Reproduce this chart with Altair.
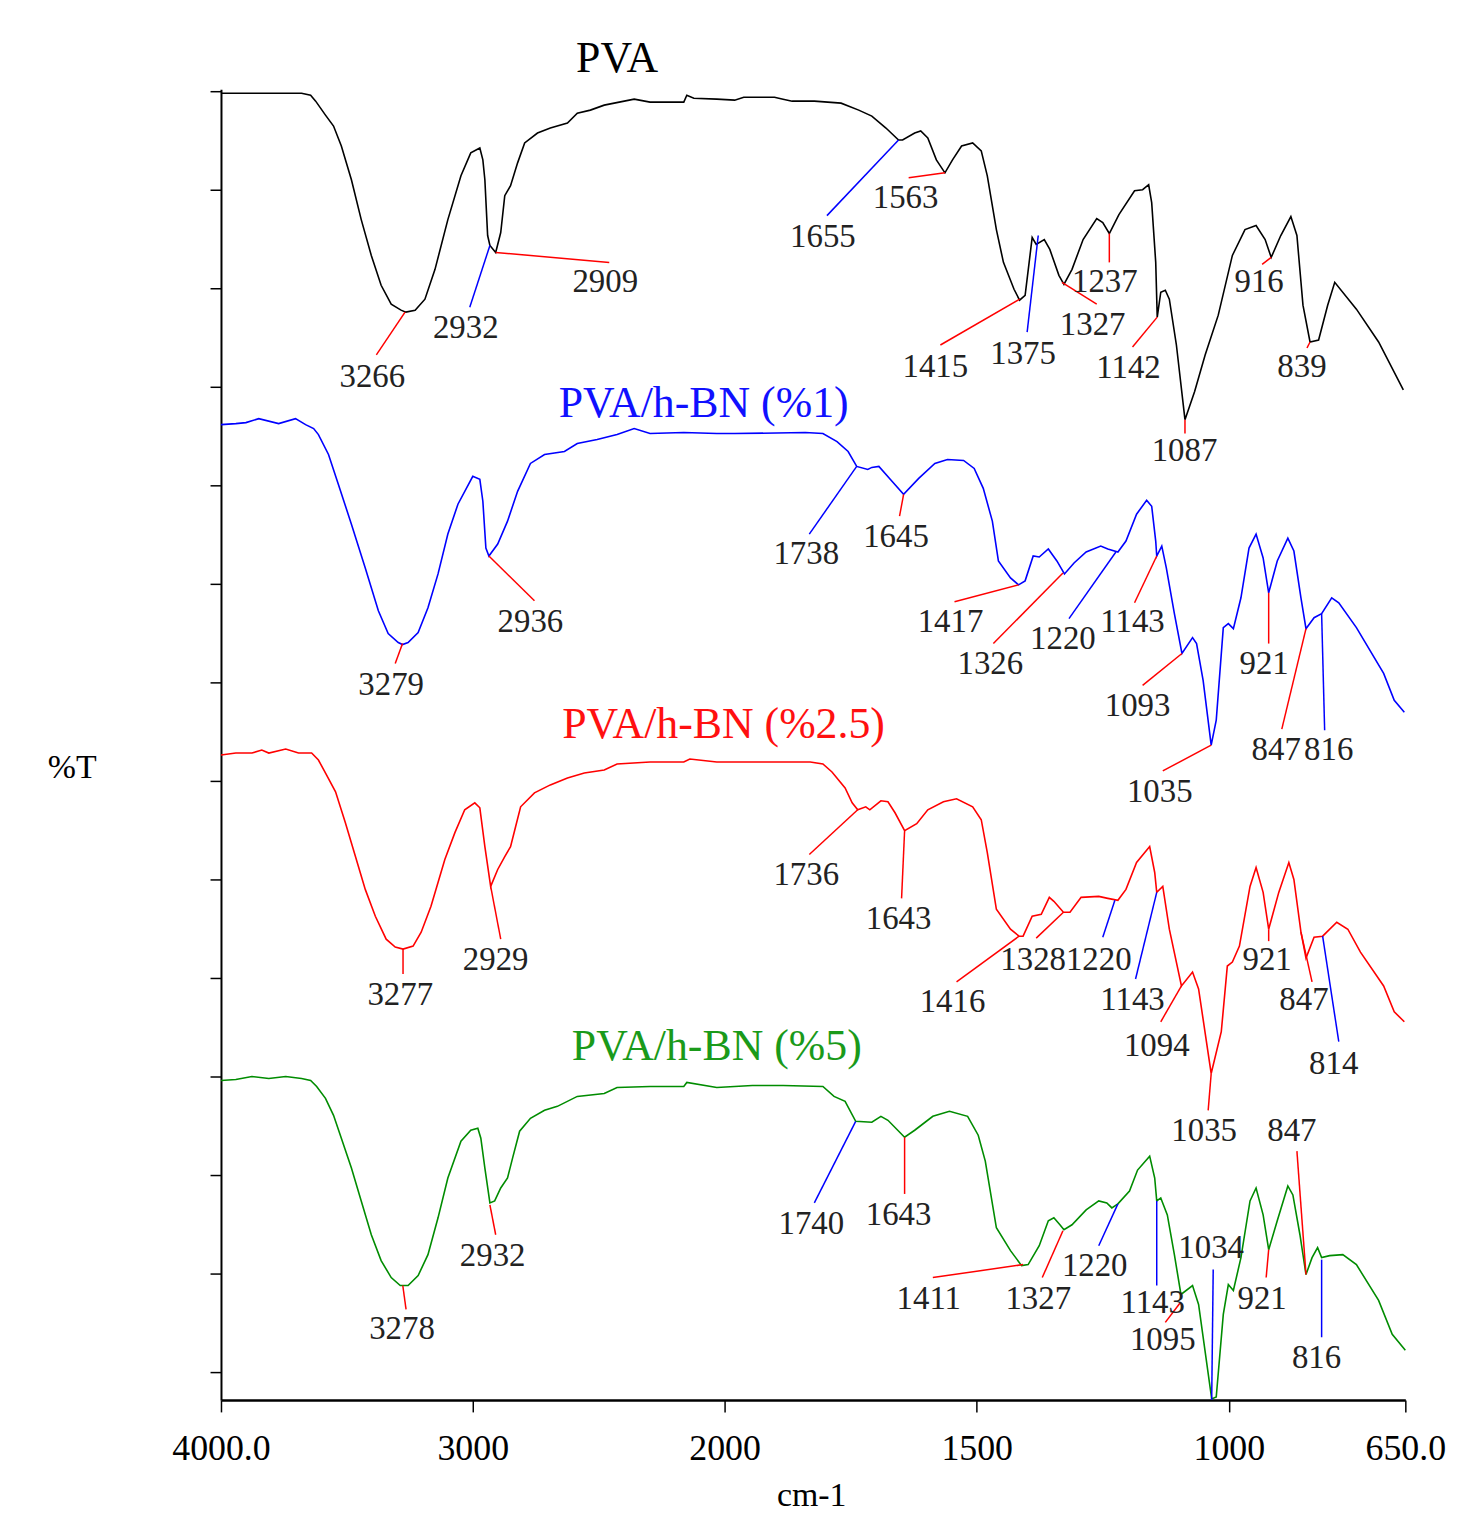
import altair as alt
import pandas as pd

# ---- spectra: (wavenumber cm-1, %T in arbitrary stacked units) ----
pva = [(4000,131.3),(3680,131.3),(3644,131.1),(3624,130.5),(3585,129.1),(3553,128.0),(3522,126.0),(3482,122.6),
       (3443,118.6),(3403,115.0),(3364,112.0),(3324,110.1),(3285,109.5),(3266,109.3),(3229,109.5),(3190,110.6),
       (3150,113.6),(3099,118.6),(3047,123.0),(3008,125.3),(2972,125.8),(2960,124.6),(2952,122.6),(2941,117.0),
       (2932,116.0),(2909,115.3),(2889,117.3),(2873,121.0),(2850,122.0),(2822,124.3),(2794,126.3),(2743,127.3),
       (2692,127.8),(2624,128.3),(2585,129.3),(2533,129.6),(2478,130.1),(2359,130.7),(2296,130.4),(2162,130.4),
       (2150,131.1),(2122,130.8),(2031,130.7),(1980,130.6),(1962,130.9),(1901,130.9),(1884,130.7),(1866,130.5),
       (1822,130.5),(1769,130.3),(1734,129.6),(1708,129.0),(1680,127.8),(1655,126.6),(1647,126.6),(1623,127.3),
       (1611,127.5),(1597,126.8),(1580,124.6),(1563,123.3),(1548,124.6),(1530,126.0),(1508,126.3),(1491,125.5),
       (1479,123.0),(1461,117.6),(1447,114.3),(1426,111.6),(1415,110.5),(1404,111.0),(1390,116.8),(1382,116.1),
       (1366,116.6),(1355,115.6),(1337,113.0),(1327,112.1),(1311,113.6),(1289,116.6),(1262,118.7),(1250,118.3),
       (1237,117.2),(1218,119.1),(1187,121.5),(1171,121.6),(1159,122.1),(1153,120.3),(1145,114.3),(1142,108.8),
       (1135,111.3),(1126,111.5),(1118,110.6),(1104,106.0),(1087,98.5),(1068,101.3),(1047,105.0),(1021,109.0),
       (993,115.0),(968,117.6),(946,118.0),(928,116.6),(916,114.8),(897,117.0),(877,118.9),(865,117.0),
       (853,110.0),(839,106.3),(822,106.5),(804,110.0),(790,112.3),(747,109.6),(703,106.3),(654,101.5)]

bn1 = [(4000,98.0),(3941,98.1),(3901,98.2),(3850,98.6),(3771,98.1),(3704,98.6),(3664,98.0),(3632,97.6),
       (3613,97.0),(3573,95.0),(3534,92.0),(3482,88.0),(3427,83.6),(3375,79.3),(3336,77.0),(3296,76.1),
       (3279,75.9),(3257,76.1),(3217,77.1),(3178,79.6),(3138,83.0),(3099,87.0),(3059,90.0),(3000,92.8),
       (2972,92.5),(2960,90.3),(2948,85.6),(2936,84.8),(2901,86.0),(2862,88.3),(2822,91.3),(2771,94.1),
       (2715,95.0),(2636,95.3),(2585,96.1),(2506,96.5),(2427,97.0),(2359,97.6),(2296,97.1),(2162,97.2),
       (2031,97.1),(1980,97.1),(1840,97.2),(1805,97.1),(1777,96.3),(1755,95.3),(1738,93.8),(1716,93.5),
       (1708,93.7),(1694,93.8),(1668,92.3),(1645,91.0),(1615,92.6),(1583,94.1),(1558,94.5),(1526,94.4),
       (1505,93.6),(1487,91.6),(1469,88.3),(1457,84.3),(1433,82.6),(1417,81.9),(1404,82.3),(1388,84.8),
       (1376,84.7),(1358,85.5),(1341,84.3),(1326,83.0),(1307,84.1),(1283,85.2),(1254,85.8),(1240,85.5),
       (1220,85.2),(1204,86.3),(1183,89.0),(1163,90.4),(1153,89.8),(1145,86.3),(1143,84.8),(1133,85.8),
       (1124,83.6),(1108,79.0),(1093,75.0),(1072,76.6),(1064,76.0),(1051,72.3),(1035,65.8),(1025,68.3),
       (1011,77.6),(1001,78.0),(991,77.5),(976,80.6),(960,85.6),(946,87.0),(932,84.6),(921,81.1),
       (904,84.3),(883,86.6),(871,85.3),(857,80.6),(847,77.5),(831,78.6),(816,79.0),(796,80.6),
       (782,80.1),(747,77.6),(693,73.0),(672,70.3),(652,69.1)]

bn25 = [(4000,64.8),(3941,65.0),(3877,65.0),(3838,65.3),(3810,65.0),(3743,65.4),(3692,65.0),(3640,65.0),
        (3613,64.3),(3581,62.8),(3545,61.1),(3506,58.0),(3466,54.6),(3427,51.3),(3387,48.6),(3344,46.3),
        (3308,45.5),(3277,45.3),(3237,45.6),(3205,47.0),(3166,49.6),(3111,54.3),(3071,57.0),(3032,59.3),
        (2992,60.0),(2972,59.5),(2952,55.6),(2929,51.6),(2901,53.3),(2873,54.6),(2850,55.6),(2830,57.6),
        (2810,59.6),(2755,61.0),(2692,61.8),(2624,62.5),(2557,63.0),(2478,63.3),(2427,63.9),(2296,64.1),
        (2162,64.1),(2138,64.4),(2031,64.1),(1830,64.1),(1805,63.9),(1787,63.1),(1761,61.5),(1747,60.0),
        (1736,59.3),(1720,59.6),(1712,59.3),(1690,60.2),(1676,60.1),(1662,59.0),(1643,57.2),(1619,57.9),
        (1597,59.3),(1566,60.1),(1540,60.4),(1508,59.6),(1491,58.3),(1479,55.0),(1461,49.3),(1433,47.3),
        (1416,46.6),(1408,46.6),(1390,48.6),(1372,48.8),(1356,50.5),(1347,50.1),(1328,49.0),(1315,49.0),
        (1293,50.5),(1258,50.6),(1240,50.4),(1220,50.2),(1204,51.3),(1183,54.0),(1157,55.6),(1147,53.0),
        (1143,51.0),(1131,51.6),(1118,47.3),(1094,41.6),(1072,43.0),(1060,41.3),(1035,32.8),(1015,37.0),
        (1003,43.6),(993,44.0),(979,45.6),(958,51.6),(946,53.5),(932,51.0),(921,47.3),(901,51.0),
        (881,54.0),(871,52.3),(857,47.0),(847,44.4),(831,46.5),(814,46.6),(786,48.0),(764,47.3),
        (739,45.0),(693,41.6),(672,39.0),(652,38.0)]

bn5 = [(4000,32.1),(3941,32.2),(3877,32.5),(3810,32.3),(3743,32.5),(3680,32.3),(3644,32.1),(3620,31.5),
       (3585,30.3),(3553,28.6),(3522,26.3),(3482,23.3),(3443,20.0),(3403,16.6),(3364,14.0),(3324,12.3),
       (3288,11.5),(3278,11.5),(3257,11.5),(3217,12.5),(3178,14.6),(3138,18.3),(3099,22.3),(3047,26.0),
       (3008,27.1),(2980,27.3),(2968,26.3),(2952,23.3),(2932,19.8),(2913,20.0),(2889,21.3),(2862,22.3),
       (2842,24.3),(2814,27.0),(2771,28.3),(2715,29.1),(2664,29.5),(2585,30.5),(2478,30.8),(2427,31.4),
       (2296,31.5),(2162,31.5),(2150,31.9),(2031,31.4),(1945,31.6),(1884,31.6),(1805,31.5),(1783,30.5),
       (1761,30.0),(1740,28.0),(1708,27.9),(1690,28.5),(1676,28.1),(1643,26.4),(1623,27.1),(1587,28.5),
       (1554,29.0),(1518,28.5),(1497,26.6),(1483,24.0),(1461,17.3),(1433,15.0),(1411,13.5),(1398,13.6),
       (1376,15.5),(1358,18.0),(1347,18.3),(1335,17.6),(1327,17.1),(1311,17.6),(1283,19.1),(1258,20.0),
       (1242,19.8),(1232,19.3),(1220,19.7),(1197,21.0),(1181,23.1),(1157,24.5),(1147,22.3),(1143,20.0),
       (1135,20.3),(1122,18.6),(1108,14.6),(1095,10.6),(1072,11.5),(1060,9.6),(1034,0.1),(1025,0.3),
       (1011,8.6),(1001,11.6),(991,11.0),(976,14.3),(958,20.0),(946,21.3),(932,18.6),(921,15.1),
       (904,18.0),(883,21.5),(873,20.6),(859,16.6),(847,12.6),(835,14.3),(824,15.3),(816,14.3),
       (800,14.5),(774,14.6),(747,13.6),(703,10.0),(676,6.6),(650,5.0)]

series_names = ["PVA", "PVA/h-BN (%1)", "PVA/h-BN (%2.5)", "PVA/h-BN (%5)"]
series_colors = ["#000000", "#0000ff", "#ff0000", "#008c00"]
title_colors = ["#000000", "#1010ff", "#ff1010", "#1a9a1a"]

# series names placed as text: (name, wavenumber, %T)
series_titles = [("PVA", 2427, 134.7), ("PVA/h-BN (%1)", 2083, 100.1),
                 ("PVA/h-BN (%2.5)", 2004, 67.8), ("PVA/h-BN (%5)", 2031, 35.5)]

# peak annotations: (label, label_wn, label_T, lead_wn1, lead_T1, lead_wn2, lead_T2, lead colour class)
peaks = [
    ("3266",3399,102.8,3269,109.3,3383,105.0,"r"), ("2932",3028,107.7,2932,116.0,3012,109.8,"b"),
    ("2909",2474,112.3,2909,115.3,2458,114.3,"r"), ("1655",1805,116.8,1655,126.6,1797,119.0,"b"),
    ("1563",1641,120.8,1563,123.3,1635,122.8,"r"), ("1415",1582,103.8,1415,110.6,1572,106.0,"r"),
    ("1375",1408,105.1,1378,117.0,1400,107.3,"b"), ("1327",1270,108.0,1331,112.3,1262,110.1,"r"),
    ("1237",1246,112.3,1237,117.2,1237,114.3,"r"), ("1142",1199,103.7,1142,108.8,1191,105.8,"r"),
    ("1087",1088,95.3,1087,98.5,1087,97.1,"r"), ("916",940,112.3,916,114.8,934,114.1,"r"),
    ("839",855,103.8,839,106.3,845,105.7,"r"),
    ("3279",3324,71.8,3279,76.0,3308,74.0,"r"), ("2936",2771,78.2,2936,84.8,2755,80.3,"r"),
    ("1738",1838,85.0,1738,93.8,1832,87.0,"b"), ("1645",1660,86.7,1645,91.0,1653,88.8,"r"),
    ("1417",1552,78.2,1417,81.9,1544,80.2,"r"), ("1326",1473,73.9,1329,83.1,1467,76.0,"r"),
    ("1220",1329,76.5,1224,85.2,1317,78.5,"b"), ("1143",1191,78.2,1143,84.8,1187,80.1,"r"),
    ("1093",1181,69.7,1093,75.0,1171,71.8,"r"), ("1035",1137,61.1,1035,65.8,1131,63.2,"r"),
    ("921",930,73.9,921,81.1,921,76.0,"r"), ("847",906,65.3,847,77.5,895,67.4,"r"),
    ("816",802,65.3,816,79.0,810,67.3,"b"),
    ("3277",3288,40.7,3277,45.3,3277,42.8,"r"), ("2929",2909,44.2,2929,51.6,2889,46.3,"r"),
    ("1736",1838,52.7,1736,59.3,1832,54.8,"r"), ("1643",1655,48.3,1643,57.2,1649,50.4,"r"),
    ("1416",1548,40.0,1416,46.6,1540,42.0,"r"), ("1328",1388,44.2,1328,49.0,1382,46.4,"r"),
    ("1220",1258,44.2,1226,50.2,1250,46.5,"b"), ("1143",1191,40.2,1143,51.0,1185,42.3,"b"),
    ("1094",1143,35.6,1094,41.6,1135,38.0,"r"), ("1035",1049,27.0,1035,32.8,1041,29.1,"r"),
    ("921",924,44.2,921,47.3,921,46.1,"r"), ("847",851,40.2,857,47.0,835,42.0,"r"),
    ("814",792,33.8,814,46.6,782,36.0,"b"),
    ("3278",3281,7.1,3278,11.5,3265,9.1,"r"), ("2932",2921,14.5,2932,19.6,2909,16.6,"r"),
    ("1740",1828,17.7,1740,28.0,1822,19.8,"b"), ("1643",1655,18.6,1643,26.4,1643,20.7,"r"),
    ("1411",1595,10.1,1408,13.6,1587,12.3,"r"), ("1327",1378,10.1,1329,17.0,1370,12.3,"r"),
    ("1220",1266,13.5,1220,19.7,1258,15.5,"b"), ("1143",1151,9.7,1143,20.0,1143,11.5,"b"),
    ("1095",1131,6.0,1096,9.8,1126,7.8,"r"), ("1034",1035,15.3,1031,13.1,1034,0.0,"b"),
    ("921",934,10.1,921,15.1,926,12.3,"r"), ("847",875,27.0,847,12.6,865,25.0,"r"),
    ("816",826,4.2,816,14.1,816,6.3,"b"),
]

x_ticks = [4000, 3000, 2000, 1500, 1000, 650]
y_ticks = [2.8, 12.7, 22.6, 32.5, 42.4, 52.3, 62.2, 72.1, 82.0, 91.9, 101.8, 111.7, 121.6, 131.5]

# ---- tables ----
rows = []
for name, pts in zip(series_names, [pva, bn1, bn25, bn5]):
    for w, t in pts:
        rows.append({"series": name, "wn": w, "T": t})
curves = pd.DataFrame(rows)

ann = pd.DataFrame(peaks, columns=["label", "lx", "ly", "x1", "y1", "x2", "y2", "lc"])
titles = pd.DataFrame(series_titles, columns=["name", "lx", "ly"])

FONT = "Liberation Serif"
xscale = alt.Scale(domain=[4000, 2000, 650], range=[0, 506, 1190], nice=False, zero=False)
yscale = alt.Scale(domain=[0, 131.7], nice=False, zero=False)

x_axis = alt.Axis(values=x_ticks, grid=False, domainColor="black", domainWidth=2.5,
                  tickColor="black", tickWidth=1.5, tickSize=12,
                  labelFont=FONT, labelFontSize=36, labelColor="black", labelPadding=20,
                  labelOverlap=False, labelFlush=False,
                  labelExpr="datum.value == 4000 ? '4000.0' : (datum.value == 650 ? '650.0' : '' + datum.value)",
                  title="cm-1", titleFont=FONT, titleFontSize=34, titleFontWeight="normal",
                  titleColor="black", titleX=593, titleY=96, titleAlign="center", titleBaseline="middle")
y_axis = alt.Axis(values=y_ticks, grid=False, labels=False, domainColor="black", domainWidth=2,
                  tickColor="black", tickWidth=1.5, tickSize=11,
                  title="%T", titleFont=FONT, titleFontSize=34, titleFontWeight="normal",
                  titleColor="black", titleAngle=0, titleX=-150, titleY=682,
                  titleAlign="center", titleBaseline="middle")

lines = alt.Chart(curves).mark_line(strokeWidth=1.6, clip=False).encode(
    x=alt.X("wn:Q", scale=xscale, axis=x_axis),
    y=alt.Y("T:Q", scale=yscale, axis=y_axis),
    color=alt.Color("series:N", scale=alt.Scale(domain=series_names, range=series_colors), legend=None),
    detail="series:N",
)

leaders = alt.Chart(ann).mark_rule(strokeWidth=1.5).encode(
    x=alt.X("x1:Q", scale=xscale, axis=x_axis),
    x2="x2:Q",
    y=alt.Y("y1:Q", scale=yscale, axis=y_axis),
    y2="y2:Q",
    color=alt.Color("lc:N", scale=alt.Scale(domain=["r", "b"], range=["#ff0000", "#0000ff"]), legend=None),
)

labels = alt.Chart(ann).mark_text(font=FONT, fontSize=33, color="#222222", align="center",
                                  baseline="middle").encode(
    x=alt.X("lx:Q", scale=xscale, axis=x_axis),
    y=alt.Y("ly:Q", scale=yscale, axis=y_axis),
    text="label:N",
)

names = alt.Chart(titles).mark_text(font=FONT, fontSize=44, align="center", baseline="middle").encode(
    x=alt.X("lx:Q", scale=xscale, axis=x_axis),
    y=alt.Y("ly:Q", scale=yscale, axis=y_axis),
    text="name:N",
    color=alt.Color("name:N", scale=alt.Scale(domain=series_names, range=title_colors), legend=None),
)

chart = alt.layer(lines, leaders, labels, names).resolve_scale(color="independent").properties(
    width=1190, height=1317,
    autosize=alt.AutoSizeParams(type="none"),
    padding={"left": 214, "top": 78, "right": 70, "bottom": 115},
    background="white",
).configure_view(stroke=None)

chart.save("out.html", embed_options={"renderer": "svg", "actions": False})
